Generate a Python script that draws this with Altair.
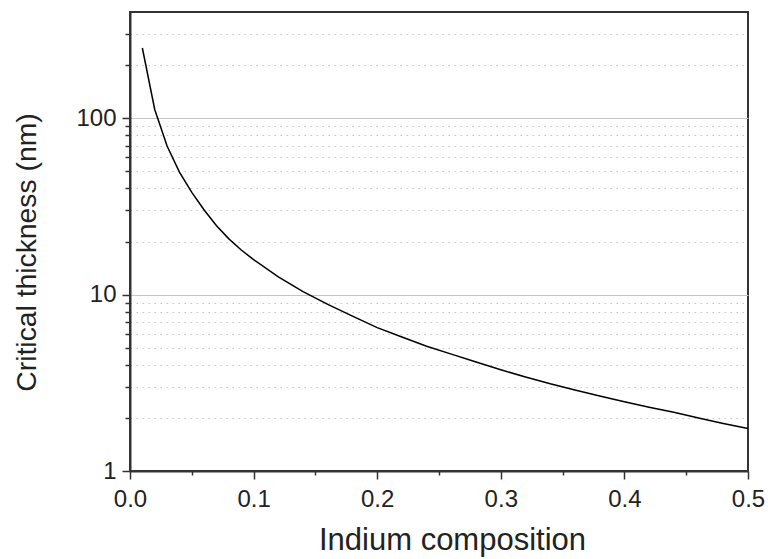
import altair as alt
import pandas as pd

# Indium composition (x) and critical thickness in nm (y)
indium = [0.01, 0.02, 0.03, 0.04, 0.05, 0.06, 0.07, 0.08, 0.09, 0.10,
          0.12, 0.14, 0.16, 0.18, 0.20, 0.22, 0.24, 0.26, 0.28, 0.30,
          0.32, 0.34, 0.36, 0.38, 0.40, 0.42, 0.44, 0.46, 0.48, 0.50]
thickness = [250, 112, 69.5, 49.5, 38, 30.2, 24.6, 20.7, 17.9, 15.8,
             12.6, 10.4, 8.8, 7.55, 6.5, 5.75, 5.1, 4.6, 4.15, 3.75,
             3.41, 3.12, 2.88, 2.66, 2.47, 2.30, 2.15, 2.00, 1.86, 1.74]

x_ticks = [0, 0.05, 0.1, 0.15, 0.2, 0.25, 0.3, 0.35, 0.4, 0.45, 0.5]
y_ticks = [1, 2, 3, 4, 5, 6, 7, 8, 9,
           10, 20, 30, 40, 50, 60, 70, 80, 90,
           100, 200, 300]

df = pd.DataFrame({"x": indium, "h": thickness})

FONT = "Liberation Sans"
is_major_y = "indexof([1, 10, 100], datum.value) >= 0"
is_major_x = "abs(datum.value * 10 - round(datum.value * 10)) < 1e-6"

chart = alt.Chart(df).mark_line(color="black", strokeWidth=1.5).encode(
    x=alt.X(
        "x:Q",
        scale=alt.Scale(domain=[0, 0.5], nice=False, zero=False),
        axis=alt.Axis(
            values=x_ticks,
            labelExpr=is_major_x + " ? format(datum.value, '.1f') : ''",
            title="Indium composition",
            grid=False,
            labelFlush=False,
            labelOverlap=False,
            tickSize={"condition": {"test": is_major_x, "value": 8}, "value": 4},
            labelPadding=8,
            titlePadding=14,
            titleFontSize=31,
            titleX=322,
        ),
    ),
    y=alt.Y(
        "h:Q",
        scale=alt.Scale(type="log", domain=[1, 400], nice=False),
        axis=alt.Axis(
            values=y_ticks,
            labelExpr=is_major_y + " ? format(datum.value, 'd') : ''",
            title="Critical thickness (nm)",
            grid=True,
            gridColor="#c4c4c4",
            gridDash={"condition": {"test": is_major_y, "value": []}, "value": [1.5, 4.5]},
            gridWidth=1,
            labelFlush=False,
            labelOverlap=False,
            tickSize={"condition": {"test": is_major_y, "value": 8}, "value": 5},
            labelPadding=6,
            titlePadding=34,
            titleFontSize=28.3,
            titleY=240,
        ),
    ),
).properties(
    width=618,
    height=459,
    padding={"left": 130, "top": 12, "right": 20, "bottom": 88},
    autosize=alt.AutoSizeParams(type="none"),
).configure_axis(
    labelFont=FONT,
    labelFontSize=24,
    labelColor="#222222",
    titleFont=FONT,
    titleFontWeight="normal",
    titleColor="#222222",
    domainColor="#333333",
    domainWidth=2,
    tickColor="#333333",
    tickWidth=1.5,
).configure_view(
    stroke="#333333",
    strokeWidth=2,
)

chart.save("out.html", embed_options={"renderer": "svg", "actions": False})
